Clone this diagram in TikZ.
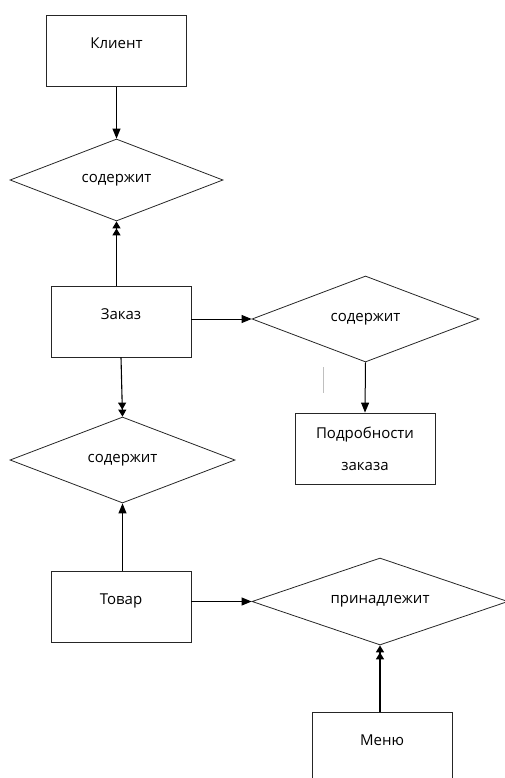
\documentclass[tikz,border=0pt]{standalone}
\usepackage{fontspec}
\setmainfont{Open Sans}
\usepackage{tikz}
\usetikzlibrary{shapes.geometric, arrows.meta, positioning}

\begin{document}
\begin{tikzpicture}[
  x=1pt, y=-1pt,
  entity/.style={rectangle, draw=black!85, line width=0.8pt, minimum width=140pt, minimum height=71pt, font=\fontsize{15pt}{18pt}\selectfont, text height=6pt, text depth=10pt},
  relation/.style={diamond, draw=black!85, line width=0.8pt, aspect=2.6, inner sep=0pt, font=\fontsize{15pt}{18pt}\selectfont},
  arrow/.style={-{Triangle[length=10pt, width=8pt]}, line width=1pt},
  dblarrow/.style={-{Triangle[length=7pt, width=8pt]Triangle[length=7pt, width=8pt]}, line width=1.1pt}
]
  \useasboundingbox (0,0) rectangle (504,778);

  % Client
  \node[entity] (client) at (116.5,51) {Клиент};
  \node[relation, minimum width=213pt, minimum height=82pt] (clientrel) at (116.5,180) {содержит};

  % Order
  \node[entity] (order) at (121,321.5) {Заказ};
  \node[relation, minimum width=227pt, minimum height=86pt] (detailrel) at (365.5,319) {содержит};
  \node[entity, text height={}, text depth={}, align=center, font=\fontsize{15pt}{32pt}\selectfont] (details) at (365,448.5) {Подробности\\заказа};
  \node[relation, minimum width=225pt, minimum height=86pt] (productrel) at (122.5,460) {содержит};

  % Product and menu
  \node[entity] (product) at (121,606.5) {Товар};
  \node[relation, minimum width=256pt, minimum height=87pt] (menurel) at (380,601.5) {принадлежит};
  \node[entity] (menu) at (382,747.5) {Меню};

  % Connections
  \draw[arrow] (client) -- (clientrel);
  \draw[dblarrow] (clientrel.south |- order.north) -- (clientrel.south);
  \draw[arrow] (order.east |- detailrel.west) -- (detailrel.west);
  \draw[arrow] (detailrel.south) -- (details.north);
  \draw[dblarrow] (order.south) -- (productrel.north);
  \draw[arrow] (productrel.south |- product.north) -- (productrel.south);
  \draw[arrow] (product.east |- menurel.west) -- (menurel.west);
  \draw[dblarrow, line width=1.6pt] (menurel.south |- menu.north) -- (menurel.south);

  % stray mark
  \draw[black!25, line width=0.8pt] (323,367) -- (323,393);
\end{tikzpicture}
\end{document}
